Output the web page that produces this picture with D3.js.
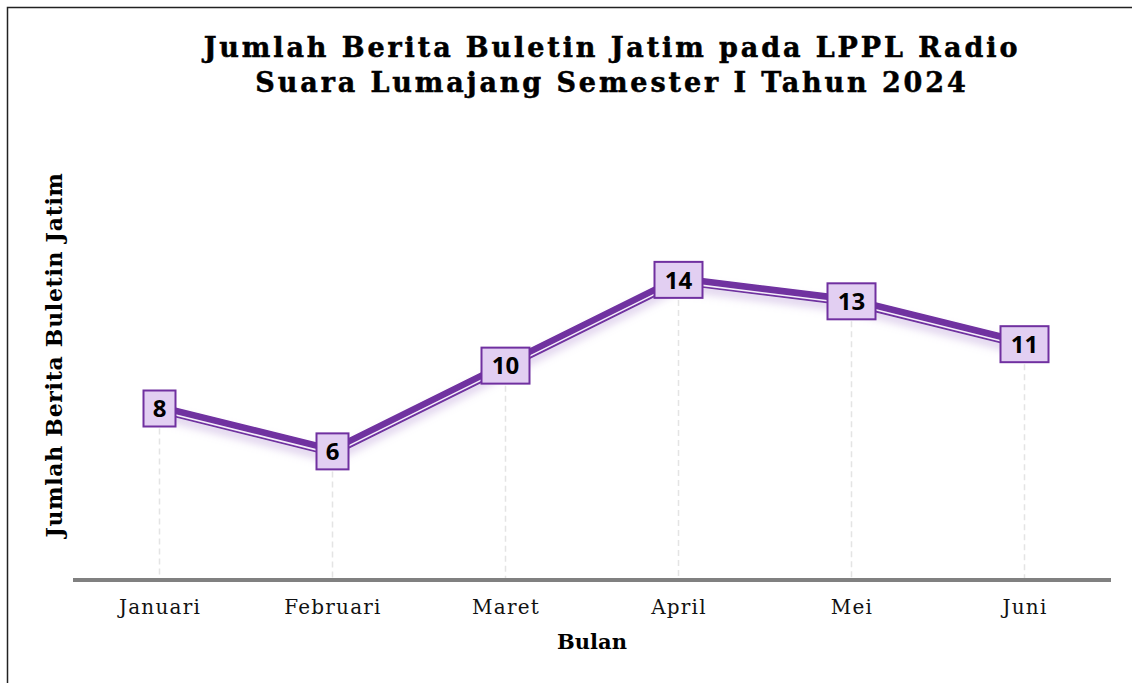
<!DOCTYPE html>
<html>
<head>
<meta charset="utf-8">
<script src="https://cdn.jsdelivr.net/npm/d3@7"></script>
<style>
	body { margin: 0; background: #fff; }
	svg { display: block; }
</style>
</head>
<body>
<div id="chart"></div>
<script>
// Jumlah Berita Buletin Jatim — line chart with boxed data labels

const MONTHS = ['Januari', 'Februari', 'Maret', 'April', 'Mei', 'Juni'];
const VALUES = [8, 6, 10, 14, 13, 11];
const TITLE_LINES = ['Jumlah Berita Buletin Jatim pada LPPL Radio', 'Suara Lumajang Semester I Tahun 2024'];
const Y_LABEL = 'Jumlah Berita Buletin Jatim';
const X_LABEL = 'Bulan';

(function () {
	const W = 1132, H = 683;
	const margin = { top: 237, right: 21, bottom: 103, left: 73 };
	const purple = '#7030a0';

	const svg = d3.select('#chart').append('svg').attr('width', W).attr('height', H);

	const defs = svg.append('defs');
	const f = defs.append('filter').attr('id', 'glow').attr('x', '-10%').attr('y', '-50%').attr('width', '120%').attr('height', '200%');
	f.append('feGaussianBlur').attr('in', 'SourceAlpha').attr('stdDeviation', 4).attr('result', 'b');
	f.append('feOffset').attr('in', 'b').attr('dy', 6).attr('result', 'o');
	f.append('feFlood').attr('flood-color', '#b89ad6').attr('flood-opacity', 0.45);
	f.append('feComposite').attr('in2', 'o').attr('operator', 'in').attr('result', 's');
	const fm = f.append('feMerge');
	fm.append('feMergeNode').attr('in', 's');
	fm.append('feMergeNode').attr('in', 'SourceGraphic');

	// frame
	svg.append('rect').attr('x', 7.5).attr('y', 7.5).attr('width', W + 10).attr('height', H + 10)
		.attr('fill', 'none').attr('stroke', '#222').attr('stroke-width', 1.5);

	const x = d3.scalePoint().domain(MONTHS).range([margin.left, W - margin.right]).padding(0.5);
	const y = d3.scaleLinear().domain([0, 16]).range([H - margin.bottom, margin.top]);
	const data = MONTHS.map((m, i) => ({ m, v: VALUES[i] }));

	// title
	const title = svg.append('text').attr('text-anchor', 'middle')
		.style('font-family', '"DejaVu Serif", serif').style('font-weight', 'bold')
		.style('font-size', '27px').style('letter-spacing', '2.9px').attr('fill', '#000')
		.attr('stroke', '#000').attr('stroke-width', 0.5);
	TITLE_LINES.forEach((t, i) => title.append('tspan').attr('x', 612).attr('y', 57 + i * 35).text(t));

	// dashed guides from point to axis
	svg.append('g').selectAll('line').data(data).enter().append('line')
		.attr('x1', d => x(d.m)).attr('x2', d => x(d.m))
		.attr('y1', d => y(d.v)).attr('y2', y(0))
		.attr('stroke', '#e4e4e4').attr('stroke-width', 1.5).attr('stroke-dasharray', '6,4');

	// x axis
	const xAxis = svg.append('g').attr('transform', `translate(0,${y(0)})`)
		.call(d3.axisBottom(x).tickSize(0).tickPadding(20));
	xAxis.select('.domain').attr('stroke', '#808080').attr('stroke-width', 4)
		.attr('d', `M${margin.left},0H${W - margin.right}`);
	xAxis.selectAll('text').style('font-family', '"DejaVu Serif", serif').style('font-size', '20px')
		.attr('fill', '#111').style('letter-spacing', '1.2px');

	// line
	const line = d3.line().x(d => x(d.m)).y(d => y(d.v));
	const lg = svg.append('g').attr('filter', 'url(#glow)');
	lg.append('path').datum(data).attr('d', line).attr('fill', 'none')
		.attr('stroke', purple).attr('stroke-width', 10).attr('stroke-linejoin', 'round');
	lg.append('path').datum(data).attr('d', line).attr('fill', 'none').attr('transform', 'translate(0,2.5)')
		.attr('stroke', '#f4eefa').attr('stroke-width', 1.6).attr('stroke-linejoin', 'round');

	// boxed labels
	const lab = svg.append('g').selectAll('g').data(data).enter().append('g')
		.attr('transform', d => `translate(${x(d.m)},${y(d.v)})`);
	lab.append('rect')
		.attr('x', d => -(String(d.v).length > 1 ? 24 : 16)).attr('y', -18)
		.attr('width', d => String(d.v).length > 1 ? 48 : 32).attr('height', 36)
		.attr('fill', '#e2cff2').attr('stroke', purple).attr('stroke-width', 2);
	lab.append('text').attr('text-anchor', 'middle').attr('dy', '0.36em')
		.style('font-family', '"Open Sans", sans-serif').style('font-weight', 'bold').style('font-size', '24px')
		.attr('fill', '#000').text(d => d.v);

	// axis titles
	svg.append('text').attr('text-anchor', 'middle')
		.attr('transform', `translate(62,355) rotate(-90)`)
		.style('font-family', '"DejaVu Serif", serif').style('font-weight', 'bold').style('font-size', '22px')
		.style('letter-spacing', '0.7px')
		.text(Y_LABEL);
	svg.append('text').attr('text-anchor', 'middle').attr('x', (margin.left + W - margin.right) / 2).attr('y', 649)
		.style('font-family', '"DejaVu Serif", serif').style('font-weight', 'bold').style('font-size', '21px')
		.text(X_LABEL);
})();
</script>
</body>
</html>
